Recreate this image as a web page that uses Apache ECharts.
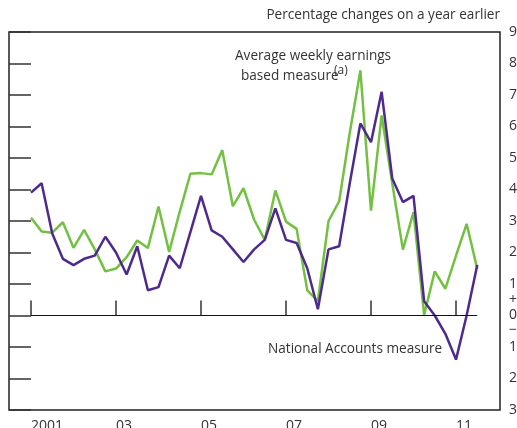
<!DOCTYPE html>
<html lang="en">

<head>
  <meta charset="UTF-8">
  <title>Earnings growth</title>
  <style>
    html,
    body {
      margin: 0;
      padding: 0;
      overflow: hidden;
      background: #fff;
    }

    #chart {
      width: 517px;
      height: 428px;
    }
  </style>
</head>

<body>
  <div id="chart"></div>
</body>
<script src="https://cdn.jsdelivr.net/npm/echarts@6/dist/echarts.min.js"></script>
<script>
  // quarterly, 2001 Q1 .. 2011 Q3
  var quarters = [];
  for (var y = 2001; y <= 2011; y++) {
    for (var q = 1; q <= 4; q++) {
      if (y === 2011 && q === 4) break;
      quarters.push(y + ' Q' + q);
    }
  }

  var nationalAccounts = [3.9, 4.2, 2.6, 1.8, 1.6, 1.8, 1.9, 2.5, 2.0, 1.3,
    2.2, 0.8, 0.9, 1.9, 1.5, 2.65, 3.8, 2.7, 2.5, 2.1,
    1.7, 2.1, 2.4, 3.4, 2.4, 2.3, 1.5, 0.2, 2.1, 2.2,
    4.2, 6.1, 5.5, 7.1, 4.35, 3.6, 3.8, 0.45, 0.0, -0.58,
    -1.4, 0.0, 1.6];

  var aweMeasure = [3.1, 2.67, 2.63, 2.96, 2.15, 2.72, 2.1, 1.4, 1.49, 1.85,
    2.38, 2.14, 3.46, 2.02, 3.3, 4.5, 4.52, 4.48, 5.25, 3.47,
    4.04, 3.04, 2.4, 3.97, 2.98, 2.75, 0.8, 0.46, 3.0, 3.62,
    5.8, 7.78, 3.33, 6.35, 4.2, 2.09, 3.28, 0.02, 1.4, 0.85,
    1.9, 2.91, 1.48];

  var tickIndex = [0, 8, 16, 24, 32, 40];
  var tickLabels = ['2001', '03', '05', '07', '09', '11'];

  var ink = '#333';
  var txt = '13.6px "Open Sans"';

  function pairs(arr) {
    return arr.map(function (v, i) { return [i, v]; });
  }

  const myChart = echarts.init(document.querySelector('#chart'));

  var option = {
    animation: false,
    textStyle: { fontFamily: 'Open Sans' },
    grid: {
      left: 9, right: 17, top: 32, bottom: 18,
      outerBoundsMode: 'none',
      containLabel: false,
      show: true,
      borderColor: '#222',
      borderWidth: 1.5
    },
    xAxis: {
      type: 'value',
      min: -2.07,
      max: 44.14,
      splitLine: { show: false },
      axisLine: { show: false },
      axisTick: {
        inside: true, length: 15,
        customValues: tickIndex,
        lineStyle: { color: ink, width: 1.5 }
      },
      axisLabel: {
        customValues: tickIndex,
        margin: 9,
        fontSize: 14,
        color: ink,
        align: 'left',
        formatter: function (v) {
          return tickLabels[tickIndex.indexOf(v)];
        }
      }
    },
    yAxis: [{
      type: 'value',
      position: 'right',
      min: -3, max: 9, interval: 1,
      splitLine: { show: false },
      axisLine: { show: false },
      axisTick: { inside: true, length: 15, lineStyle: { color: ink, width: 1.5 } },
      axisLabel: {
        margin: 9,
        fontSize: 14,
        color: ink,
        lineHeight: 15,
        formatter: function (v) {
          if (v === 0) return '+\n0\n\u2212';
          return String(Math.abs(v));
        }
      }
    }, {
      type: 'value',
      position: 'left',
      min: -3, max: 9, interval: 1,
      splitLine: { show: false },
      axisLine: { show: false },
      axisLabel: { show: false },
      axisTick: { inside: true, length: 15, lineStyle: { color: ink, width: 1.5 } }
    }],
    graphic: [{
      type: 'text',
      right: 17, top: 8,
      style: { text: 'Percentage changes on a year earlier', font: txt, fill: ink }
    }, {
      type: 'text',
      left: 235, top: 49,
      style: { text: 'Average weekly earnings', font: txt, fill: ink }
    }, {
      type: 'text',
      left: 241, top: 69,
      style: { text: 'based measure', font: txt, fill: ink }
    }, {
      type: 'text',
      left: 334, top: 65,
      style: { text: '(a)', font: '12px "Open Sans"', fill: ink }
    }, {
      type: 'text',
      left: 268, top: 342,
      style: { text: 'National Accounts measure', font: txt, fill: ink }
    }],
    series: [{
      name: 'Average weekly earnings based measure',
      type: 'line',
      data: pairs(aweMeasure),
      symbol: 'none',
      lineStyle: { color: '#73c043', width: 2.5 },
      z: 3
    }, {
      name: 'National Accounts measure',
      type: 'line',
      data: pairs(nationalAccounts),
      symbol: 'none',
      lineStyle: { color: '#4e2a8e', width: 2.5 },
      z: 4,
      markLine: {
        silent: true,
        symbol: 'none',
        label: { show: false },
        lineStyle: { color: '#111', width: 1, type: 'solid' },
        data: [[{ coord: [0, 0] }, { coord: [quarters.length - 1, 0] }]]
      }
    }]
  };

  myChart.setOption(option);
</script>

</html>
